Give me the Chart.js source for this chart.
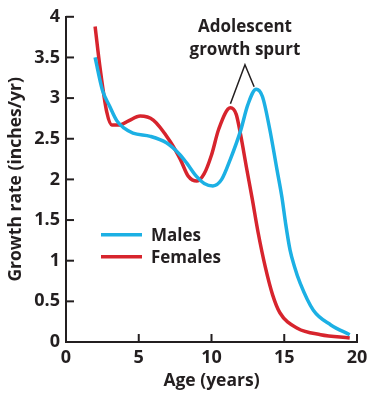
<!DOCTYPE html>
<html>
<head>
<meta charset="utf-8">
<script src="https://cdn.jsdelivr.net/npm/chart.js@4"></script>
<style>
  html, body { margin: 0; padding: 0; background: #fff; }
  #wrap { width: 375px; height: 407px; }
</style>
</head>
<body>
<div id="wrap"><canvas id="growthChart" width="375" height="407"></canvas></div>
<script>
// growth velocity curves
var maleAges = [2, 2.5, 3, 3.5, 4, 4.6, 5.8, 6.9, 7.8, 8.3, 9, 9.5, 10.1, 10.7, 11.3, 12, 12.5, 13.07, 13.5, 14, 14.5, 14.84, 15.1, 15.4, 15.7, 16.1, 17, 18.2, 19.5];
var maleRates = [3.5, 3.1, 2.9, 2.72, 2.63, 2.57, 2.53, 2.45, 2.31, 2.2, 2.03, 1.95, 1.92, 2.0, 2.25, 2.6, 2.92, 3.11, 3.02, 2.62, 2.12, 1.78, 1.45, 1.13, 0.93, 0.72, 0.39, 0.21, 0.09];
var femaleAges = [2, 2.35, 2.8, 3.15, 3.7, 4.3, 5.1, 6, 7.15, 7.85, 8.4, 9, 9.5, 10, 10.5, 11.3, 11.7, 12, 12.4, 12.8, 13.2, 13.7, 14.2, 14.7, 15.9, 17.5, 19.5];
var femaleRates = [3.88, 3.36, 2.83, 2.67, 2.67, 2.72, 2.78, 2.73, 2.47, 2.25, 2.04, 1.98, 2.07, 2.3, 2.62, 2.88, 2.8, 2.55, 2.15, 1.76, 1.35, 0.92, 0.58, 0.36, 0.17, 0.09, 0.05];
var xTicks = [0, 5, 10, 15, 20];
var yTicks = [0, 0.5, 1, 1.5, 2, 2.5, 3, 3.5, 4];
var seriesNames = ["Males", "Females"];
var noteLines = ["Adolescent", "growth spurt"];

var ink = "#231f20";
var blue = "#1cb0e4";
var red = "#d7242d";
var fontFam = "'Open Sans', sans-serif";

function pts(xs, ys) {
  return xs.map(function (x, i) { return { x: x, y: ys[i] }; });
}

// inward tick marks, legend and the spurt annotation
var extras = {
  id: "extras",
  afterDraw: function (chart) {
    var ctx = chart.ctx;
    var xs = chart.scales.x, ys = chart.scales.y;
    var area = chart.chartArea;
    ctx.save();
    ctx.strokeStyle = ink;
    ctx.lineWidth = 2;
    xTicks.forEach(function (t) {
      if (t === 0) return;
      var px = xs.getPixelForValue(t);
      ctx.beginPath(); ctx.moveTo(px, area.bottom); ctx.lineTo(px, area.bottom - 8); ctx.stroke();
    });
    yTicks.forEach(function (t) {
      if (t === 0) return;
      var py = ys.getPixelForValue(t);
      ctx.beginPath(); ctx.moveTo(area.left, py); ctx.lineTo(area.left + 8, py); ctx.stroke();
    });

    // legend
    var colors = [blue, red];
    ctx.font = "bold 17px " + fontFam;
    ctx.textBaseline = "middle";
    ctx.textAlign = "left";
    seriesNames.forEach(function (name, i) {
      var ly = area.top + 218 + i * 22;
      ctx.strokeStyle = colors[i];
      ctx.lineWidth = 3.5;
      ctx.beginPath(); ctx.moveTo(area.left + 35, ly); ctx.lineTo(area.left + 76, ly); ctx.stroke();
      ctx.fillStyle = ink;
      ctx.fillText(name, area.left + 85, ly + 1);
    });

    // annotation
    var apexX = xs.getPixelForValue(12.3), apexY = ys.getPixelForValue(3.41);
    ctx.strokeStyle = ink;
    ctx.lineWidth = 1.5;
    ctx.beginPath();
    ctx.moveTo(xs.getPixelForValue(11.3), ys.getPixelForValue(2.93));
    ctx.lineTo(apexX, apexY);
    ctx.lineTo(xs.getPixelForValue(12.93), ys.getPixelForValue(3.14));
    ctx.stroke();
    ctx.textAlign = "center";
    ctx.font = "bold 17px " + fontFam;
    ctx.fillText(noteLines[0], apexX, 27);
    ctx.fillText(noteLines[1], apexX, 50);
    ctx.restore();
  }
};

var ctx = document.getElementById("growthChart").getContext("2d");
var growthChart = new Chart(ctx, {
  type: "scatter",
  data: {
    datasets: [{
      label: seriesNames[0],
      data: pts(maleAges, maleRates),
      showLine: true,
      borderColor: blue,
      borderWidth: 3.5,
      pointRadius: 0,
      cubicInterpolationMode: "monotone",
      fill: false
    }, {
      label: seriesNames[1],
      data: pts(femaleAges, femaleRates),
      showLine: true,
      borderColor: red,
      borderWidth: 3.5,
      pointRadius: 0,
      cubicInterpolationMode: "monotone",
      fill: false
    }]
  },
  options: {
    responsive: false,
    animation: false,
    layout: { padding: { top: 14, right: 18, left: 0, bottom: 0 } },
    plugins: { legend: { display: false }, tooltip: { enabled: false } },
    scales: {
      x: {
        type: "linear",
        min: 0, max: 20,
        afterBuildTicks: function (s) { s.ticks = xTicks.map(function (v) { return { value: v }; }); },
        afterFit: function (s) { s.height = 65; },
        grid: { display: false, drawTicks: false },
        border: { display: true, color: ink, width: 2 },
        ticks: { color: ink, padding: 5, font: { family: fontFam, size: 18, weight: "bold" }, maxRotation: 0,
          callback: function (v) { return String(v); } },
        title: { display: true, text: "Age (years)", color: ink, padding: { top: 0, bottom: 15 }, font: { family: fontFam, size: 17.5, weight: "bold" } }
      },
      y: {
        min: 0, max: 4,
        afterBuildTicks: function (s) { s.ticks = yTicks.map(function (v) { return { value: v }; }); },
        afterFit: function (s) { s.width = 66; },
        grid: { display: false, drawTicks: false },
        border: { display: true, color: ink, width: 2 },
        ticks: { color: ink, padding: 6, font: { family: fontFam, size: 18, weight: "bold" },
          callback: function (v) { return String(v); } },
        title: { display: true, text: "Growth rate (inches/yr)", color: ink, padding: { top: 6, bottom: 0 }, font: { family: fontFam, size: 17.5, weight: "bold" } }
      }
    }
  },
  plugins: [extras]
});
</script>
</body>
</html>
